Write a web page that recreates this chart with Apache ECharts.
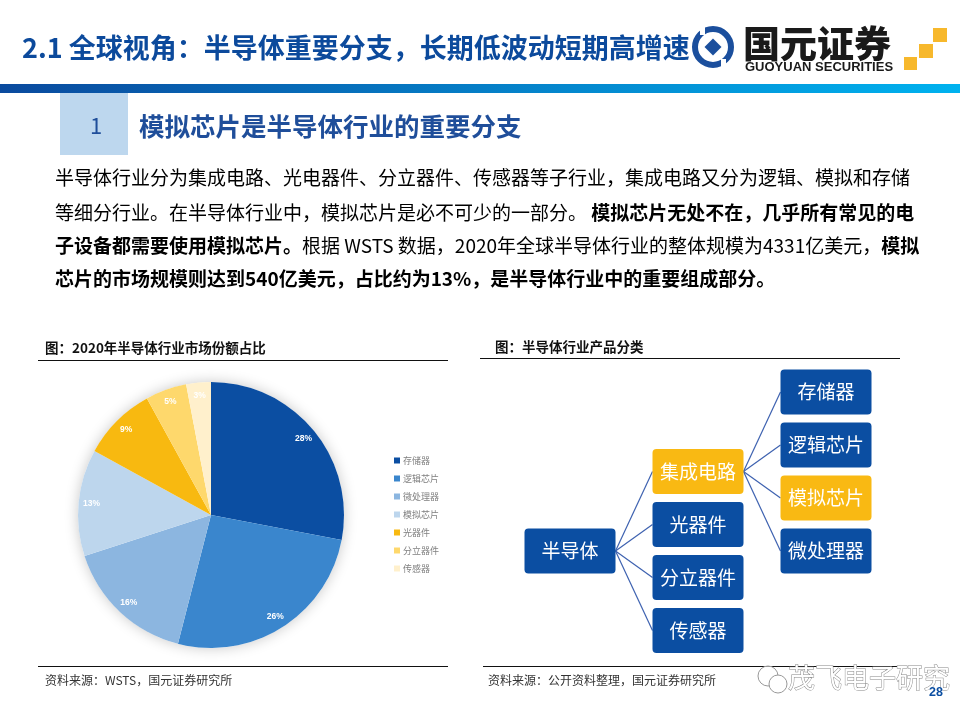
<!DOCTYPE html>
<html>
<head>
<meta charset="utf-8">
<script src="https://cdn.jsdelivr.net/npm/echarts@6/dist/echarts.min.js"></script>
<style>
  html, body { margin: 0; padding: 0; background: #fff; }
  #main { width: 960px; height: 720px; }
</style>
</head>
<body>
<div id="main"></div>
<script>
// pie: 2020 market share by segment (%)
const shareNames = ['存储器', '逻辑芯片', '微处理器', '模拟芯片', '光器件', '分立器件', '传感器']
const shareValues = [28, 26, 16, 13, 9, 5, 3]
const shareColors = ['#0b4ea2', '#3a86cd', '#8cb6e0', '#bdd6ed', '#f8b910', '#fed86c', '#fff0cc']

// tree: product classification
const treeRootName = '半导体'
const levelOne = ['集成电路', '光器件', '分立器件', '传感器']
const icChildren = ['存储器', '逻辑芯片', '模拟芯片', '微处理器']
const highlighted = ['集成电路', '模拟芯片']

const BLUE = '#0b4ea2'
const GOLD = '#f9b913'
const EDGE = '#3e62b0'
const CJK = '"Noto Sans CJK SC", "Noto Sans", sans-serif'

function makeNode(name, children) {
  const n = { name: name, itemStyle: { color: highlighted.includes(name) ? GOLD : BLUE } }
  if (children) n.children = children
  return n
}

const treeData = [
  makeNode(treeRootName, levelOne.map(function (name) {
    return name === '集成电路' ? makeNode(name, icChildren.map(function (c) { return makeNode(c) })) : makeNode(name)
  }))
]

const pieData = shareNames.map(function (name, i) {
  return { name: name, value: shareValues[i], itemStyle: { color: shareColors[i] } }
})

const boxW = 91, boxH = 45
const boxPath = 'path://M4,0 H87 Q91,0 91,4 V41 Q91,45 87,45 H4 Q0,45 0,41 V4 Q0,0 4,0 Z'
const treeBox = { left: 570, top: 339, width: 256, height: 344.5 }
const nodeLabel = {
  show: true, position: 'inside', align: 'center', verticalAlign: 'middle',
  color: '#fff', fontSize: 19, fontFamily: CJK
}

function txt(x, y, text, size, opts) {
  return {
    type: 'text', x: x, y: y, silent: true, z: 10,
    style: Object.assign({
      text: text, fontSize: size, fontFamily: CJK, fill: '#222', verticalAlign: 'middle'
    }, opts || {})
  }
}

const bodyRich = {
  r: { fontSize: 19, fontFamily: CJK, color: '#222' },
  b: { fontSize: 19, fontFamily: CJK, fontWeight: 'bold', color: '#111' }
}

const graphics = [
  // header
  txt(22, 48, '2.1 全球视角：半导体重要分支，长期低波动短期高增速', 27, { fill: '#0c4a9c', fontWeight: 'bold' }),
  { type: 'rect', shape: { x: 0, y: 84, width: 960, height: 9 }, silent: true,
    style: { fill: new echarts.graphic.LinearGradient(0, 0, 1, 0, [
      { offset: 0, color: '#0a4a9e' }, { offset: 1, color: '#00b2ef' }]) } },
  // logo
  { type: 'circle', shape: { cx: 713, cy: 47, r: 18 }, silent: true, style: { fill: '#fff', stroke: '#1b4f9d', lineWidth: 6 } },
  { type: 'rect', shape: { x: -6, y: -6, width: 12, height: 12 }, x: 713, y: 47, rotation: Math.PI / 4, silent: true, style: { fill: '#1b4f9d' } },
  { type: 'rect', shape: { x: 700, y: 25, width: 5, height: 10 }, silent: true, style: { fill: '#fff' } },
  { type: 'rect', shape: { x: 721, y: 59, width: 5, height: 10 }, silent: true, style: { fill: '#fff' } },
  txt(743, 44, '国元证券', 37, { fill: '#1a1a1a', fontWeight: 900 }),
  txt(745, 67, 'GUOYUAN SECURITIES', 13, { fill: '#1a1a1a', fontWeight: 'bold', fontFamily: '"Liberation Sans Narrow", "Liberation Sans", Arial, sans-serif' }),
  { type: 'rect', shape: { x: 933, y: 28, width: 14, height: 14 }, silent: true, style: { fill: '#f7b82c' } },
  { type: 'rect', shape: { x: 919, y: 44, width: 14, height: 14 }, silent: true, style: { fill: '#f7b82c' } },
  { type: 'rect', shape: { x: 904, y: 57, width: 13, height: 13 }, silent: true, style: { fill: '#f7b82c' } },
  // section heading
  { type: 'rect', shape: { x: 60, y: 93, width: 68, height: 62 }, silent: true, style: { fill: '#bdd7ee' } },
  txt(90, 126, '1', 22, { fill: '#1f4e9a' }),
  txt(139, 126, '模拟芯片是半导体行业的重要分支', 25.5, { fill: '#1f4e9a', fontWeight: 'bold' }),
  // body text
  { type: 'text', x: 55, y: 178, silent: true, style: { text: '{r|半导体行业分为集成电路、光电器件、分立器件、传感器等子行业，集成电路又分为逻辑、模拟和存储}', rich: bodyRich, verticalAlign: 'middle' } },
  { type: 'text', x: 55, y: 213, silent: true, style: { text: '{r|等细分行业。在半导体行业中，模拟芯片是必不可少的一部分。 }{b|模拟芯片无处不在，几乎所有常见的电}', rich: bodyRich, verticalAlign: 'middle' } },
  { type: 'text', x: 55, y: 246, silent: true, style: { text: '{b|子设备都需要使用模拟芯片。}{r|根据 WSTS 数据，2020年全球半导体行业的整体规模为4331亿美元，}{b|模拟}', rich: bodyRich, verticalAlign: 'middle' } },
  { type: 'text', x: 55, y: 279, silent: true, style: { text: '{b|芯片的市场规模则达到540亿美元，占比约为13%，是半导体行业中的重要组成部分。}', rich: bodyRich, verticalAlign: 'middle' } },
  // left panel frame
  txt(45, 348, '图：2020年半导体行业市场份额占比', 13.5, { fill: '#111', fontWeight: 'bold' }),
  { type: 'line', shape: { x1: 38, y1: 360.5, x2: 448, y2: 360.5 }, silent: true, style: { stroke: '#111', lineWidth: 1 } },
  { type: 'line', shape: { x1: 38, y1: 666.5, x2: 448, y2: 666.5 }, silent: true, style: { stroke: '#111', lineWidth: 1 } },
  txt(45, 680, '资料来源：WSTS，国元证券研究所', 12, { fill: '#333' }),
  { type: 'circle', shape: { cx: 211, cy: 515, r: 133 }, z: -1, silent: true,
    style: { fill: '#fff', shadowBlur: 14, shadowColor: 'rgba(0,0,0,0.22)' } },
  // right panel frame
  txt(495, 347, '图：半导体行业产品分类', 13.5, { fill: '#111', fontWeight: 'bold' }),
  { type: 'line', shape: { x1: 480, y1: 358.5, x2: 900, y2: 358.5 }, silent: true, style: { stroke: '#111', lineWidth: 1 } },
  { type: 'line', shape: { x1: 483, y1: 666.5, x2: 905, y2: 666.5 }, silent: true, style: { stroke: '#111', lineWidth: 1 } },
  txt(488, 680, '资料来源：公开资料整理，国元证券研究所', 12, { fill: '#333' }),
  // watermark
  { type: 'circle', shape: { cx: 768, cy: 676, r: 10 }, silent: true, style: { fill: 'rgba(255,255,255,0.6)', stroke: '#999', lineWidth: 1 } },
  { type: 'circle', shape: { cx: 778, cy: 684, r: 9 }, silent: true, style: { fill: '#fff', stroke: '#999', lineWidth: 1 } },
  txt(788, 678, '茂飞电子研究', 27, { fill: '#fff', stroke: '#888', lineWidth: 1 }),
  txt(929, 693, '28', 12.5, { fill: '#0b4ea2', fontWeight: 'bold', fontFamily: '"Liberation Sans", Arial, sans-serif' })
]

function buildOption(edgeLines) {
  const fallback = edgeLines.length === 0
  return {
    backgroundColor: '#fff',
    animation: false,
    legend: {
      orient: 'vertical', left: 389, top: 451,
      data: shareNames,
      itemWidth: 6, itemHeight: 6, itemGap: 9, icon: 'rect',
      textStyle: { fontSize: 9, color: '#808080', fontFamily: CJK, lineHeight: 9, padding: [0, 0, 0, -2] },
      selectedMode: false
    },
    series: [
      {
        type: 'pie', center: [211, 515], radius: [0, 133], startAngle: 90, clockwise: true,
        data: pieData, label: { show: false }, labelLine: { show: false },
        itemStyle: { borderWidth: 0 }, emphasis: { disabled: true }, silent: true
      },
      {
        // label ring: places percentage labels near the outer edge
        type: 'pie', center: [211, 515], radius: [101, 133], startAngle: 90, clockwise: true,
        data: pieData.map(function (d) { return { name: d.name, value: d.value } }),
        itemStyle: { color: 'rgba(0,0,0,0)' },
        label: { show: true, position: 'inside', formatter: '{c}%', color: '#fff', fontSize: 8.5, fontWeight: 'bold', fontFamily: '"Liberation Sans", Arial, sans-serif' },
        labelLine: { show: false }, emphasis: { disabled: true }, silent: true, z: 3
      },
      {
        type: 'tree', data: treeData, orient: 'LR', layout: 'orthogonal',
        left: treeBox.left, top: treeBox.top, width: treeBox.width, height: treeBox.height,
        symbol: boxPath, symbolSize: [boxW, boxH], expandAndCollapse: false, initialTreeDepth: -1, roam: false,
        edgeShape: 'curve',
        itemStyle: { borderWidth: 0 },
        lineStyle: fallback ? { color: EDGE, width: 1.3, curveness: 0.6 } : { width: 0, opacity: 0 },
        label: nodeLabel, leaves: { label: nodeLabel },
        emphasis: { disabled: true }, silent: true, z: 4
      }
    ],
    graphic: graphics.concat(edgeLines)
  }
}

const chart = echarts.init(document.getElementById('main'))
chart.setOption(buildOption([]))

// straight connectors from the right side of each parent box to the left side
// of each child box, using the positions the tree layout produced
let edgeLines = []
try {
  const tree = chart.getModel().getSeriesByIndex(2).getData().tree
  const walk = function (node) {
    (node.children || []).forEach(function (child) {
      if (node.depth >= 1) {
        const p = node.getLayout()
        const c = child.getLayout()
        edgeLines.push({
          type: 'line', silent: true, z: 1,
          shape: {
            x1: treeBox.left + p.x + boxW / 2, y1: treeBox.top + p.y,
            x2: treeBox.left + c.x - boxW / 2, y2: treeBox.top + c.y
          },
          style: { stroke: EDGE, lineWidth: 1.2 }
        })
      }
      walk(child)
    })
  }
  walk(tree.root)
} catch (e) {
  edgeLines = []
}
if (edgeLines.length) chart.setOption(buildOption(edgeLines), true)
</script>
</body>
</html>
